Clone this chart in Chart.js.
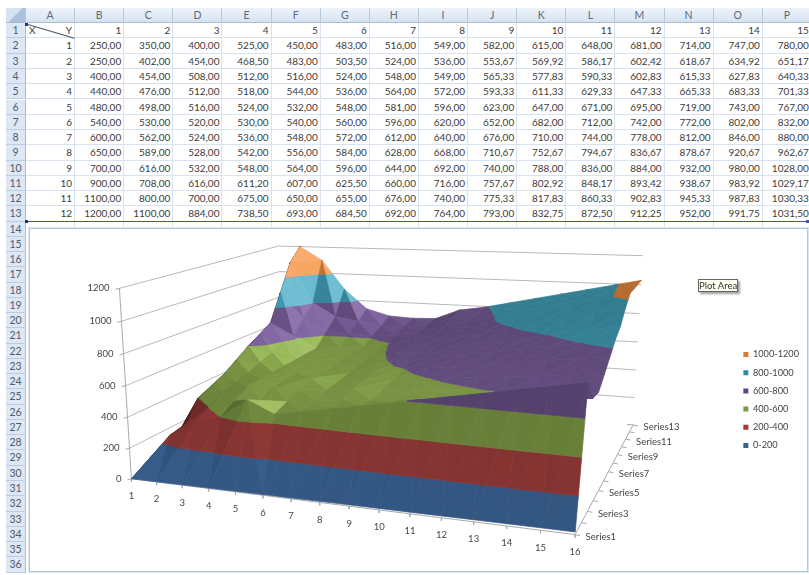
<!DOCTYPE html>
<html>
<head>
<meta charset="utf-8">
<style>
  html,body{margin:0;padding:0;background:#fff;width:809px;height:575px;overflow:hidden}
  #sheet{position:absolute;left:0;top:0;width:809px;height:575px;overflow:hidden;font-family:Lato,"Liberation Sans",sans-serif}
  .c{position:absolute;box-sizing:border-box;white-space:nowrap;overflow:hidden}
  .num{text-align:right;padding-right:2px;font-size:10px;color:#3c3c3c;border-right:1px solid #d9e3ef;border-bottom:1px solid #d9e3ef}
  .hc{text-align:center;font-size:10.5px;color:#5b6a7c;background:linear-gradient(#edf3fa,#d7e3f1);border-right:1px solid #b7c9dd;border-bottom:1px solid #a8bdd4}
  .hr{text-align:center;font-size:10.5px;color:#4d5c70;background:#dde8f4;border-right:1px solid #a8bdd4;border-bottom:1px solid #bccde0}
  #frame{position:absolute;left:29px;top:228px;width:779px;height:344px;box-sizing:border-box;border:1px solid #b4c8db;background:#fff;box-shadow:0 0 0 1px #dbe6f0}
  #plot{position:absolute;left:30px;top:229px}
  #tip{position:absolute;left:698px;top:279px;width:40px;height:13px;box-sizing:border-box;border:1px solid #666;background:#fffff2;box-shadow:2px 2px 2px #a0a0a0;font-size:9.5px;line-height:11px;text-align:center;color:#333;white-space:nowrap}
</style>
</head>
<body>
<div id="sheet">
  <div id="grid"></div>
  <div id="frame"></div>
  <canvas id="plot" width="779" height="342"></canvas>
  <div id="tip">Plot Area</div>
</div>
<script src="https://cdn.jsdelivr.net/npm/chart.js@4/dist/chart.umd.min.js"></script>
<script>
// Worksheet values, one array per row (row 1 holds the Y headers).
const colLetters = ["A","B","C","D","E","F","G","H","I","J","K","L","M","N","O","P"];
const headerY = [1,2,3,4,5,6,7,8,9,10,11,12,13,14,15];
const xValues = [1,2,3,4,5,6,7,8,9,10,11,12];
const row2  = [250,350,400,525,450,483,516,549,582,615,648,681,714,747,780];
const row3  = [250,402,454,468.5,483,503.5,524,536,553.67,569.92,586.17,602.42,618.67,634.92,651.17];
const row4  = [400,454,508,512,516,524,548,549,565.33,577.83,590.33,602.83,615.33,627.83,640.33];
const row5  = [440,476,512,518,544,536,564,572,593.33,611.33,629.33,647.33,665.33,683.33,701.33];
const row6  = [480,498,516,524,532,548,581,596,623,647,671,695,719,743,767];
const row7  = [540,530,520,530,540,560,596,620,652,682,712,742,772,802,832];
const row8  = [600,562,524,536,548,572,612,640,676,710,744,778,812,846,880];
const row9  = [650,589,528,542,556,584,628,668,710.67,752.67,794.67,836.67,878.67,920.67,962.67];
const row10 = [700,616,532,548,564,596,644,692,740,788,836,884,932,980,1028];
const row11 = [900,708,616,611.2,607,625.5,660,716,757.67,802.92,848.17,893.42,938.67,983.92,1029.17];
const row12 = [1100,800,700,675,650,655,676,740,775.33,817.83,860.33,902.83,945.33,987.83,1030.33];
const row13 = [1200,1100,884,738.5,693,684.5,692,764,793,832.75,872.5,912.25,952,991.75,1031.5];
const dataRows = [row2,row3,row4,row5,row6,row7,row8,row9,row10,row11,row12,row13];

// Chart labels and value bands.
const valueTicks = [0,200,400,600,800,1000,1200];
const categoryLabels = [1,2,3,4,5,6,7,8,9,10,11,12,13,14,15,16];
const seriesLabels = ["Series1","Series3","Series5","Series7","Series9","Series11","Series13"];
const bandNames = ["1000-1200","800-1000","600-800","400-600","200-400","0-200"];
const bandLow   = [1000,800,600,400,200,0];
const bandHigh  = [1200,1000,800,600,400,200];
const bandBase  = [[247,150,70],[75,172,198],[128,100,162],[155,187,89],[192,80,77],[79,129,189]];
const bandGloss = [2.2,2.4,0.6,0.6,0.8,0.8];
const bandSwatch= ["#d87b33","#2f8ca6","#61438a","#7b9a44","#9c3b38","#33628f"];

// ---- Worksheet grid ----
const grid = document.getElementById('grid');
const colX = i => 26 + i * 49.12;
const rowY = r => 23.2 + (r - 1) * 15.26;
function cell(cls, text, l, t, w, h){
  const d = document.createElement('div');
  d.className = 'c ' + cls;
  d.textContent = text;
  d.style.cssText = `left:${l}px;top:${t}px;width:${w}px;height:${h}px;line-height:${h}px`;
  grid.appendChild(d);
  return d;
}
const corner = cell('hc','',6,8,20,15.2);
corner.style.background = 'linear-gradient(135deg,#d5e2f0 50%,#a9c1dc 50%)';
colLetters.forEach((n,i)=>cell('hc',n,colX(i),8,49.12,15.2));
for(let r=1;r<=36;r++) cell('hr',String(r),6,rowY(r),20,15.26);
const fmt = v => v.toFixed(2).replace('.',',');
// Row 1: the XY corner cell and the Y headers.
const xy = cell('num','',colX(0),rowY(1),49.12,15.26);
xy.innerHTML = '<span style="position:absolute;left:3px">X</span><span style="position:absolute;right:2px">Y</span>';
headerY.forEach((v,i)=>cell('num',String(v),colX(i+1),rowY(1),49.12,15.26));
dataRows.forEach((row,r)=>{
  cell('num',String(xValues[r]),colX(0),rowY(r+2),49.12,15.26);
  row.forEach((v,i)=>cell('num',fmt(v),colX(i+1),rowY(r+2),49.12,15.26));
});
for(let i=0;i<16;i++){ const s=cell('num','',colX(i),rowY(14),49.12,7); s.style.borderBottom='none'; }
// Diagonal in A1, selection outline and its handles.
grid.insertAdjacentHTML('beforeend',
 `<svg style="position:absolute;left:0;top:0" width="809" height="228">
    <line x1="26" y1="24" x2="74.5" y2="38.2" stroke="#4b5566" stroke-width="1.1"/>
    <line x1="26" y1="221.5" x2="809" y2="221.5" stroke="#4a50b0" stroke-width="1.2"/>
    <rect x="25" y="23" width="3" height="3" fill="#27307e"/>
    <rect x="25" y="220" width="3" height="3" fill="#27307e"/>
    <rect x="806" y="220" width="3" height="3" fill="#4a50b0"/>
    <text x="411" y="228" font-size="7" fill="#8aa0b8" letter-spacing="0.5">....</text>
  </svg>`);

// ---- Perspective mapping of the 3-D box onto the page ----
const boxCorners = {front:[131,479], right:[575,535], back:[633,425], left:[282,395], top:[119,288], farTop:[643,259]};
function buildCamera(k){
  const [x0,y0]=k.front,[x1,y1]=k.right,[x2,y2]=k.back,[x3,y3]=k.left;
  const dx1=x1-x2,dx2=x3-x2,sx=x0-x1+x2-x3,dy1=y1-y2,dy2=y3-y2,sy=y0-y1+y2-y3;
  const den=dx1*dy2-dx2*dy1;
  const g=(sx*dy2-dx2*sy)/den,h=(dx1*sy-sx*dy1)/den;
  const a=x1-x0+g*x1,b=x3-x0+h*x3,d=y1-y0+g*y1,e=y3-y0+h*y3;
  // The vertical direction is fixed by where the far top corner falls horizontally.
  const t=(a+b-k.farTop[0]*(g+h))/(k.farTop[0]-k.top[0]);
  const wx=t*k.top[0]-x0,wy=t*k.top[1]-y0,wz=t-1;
  return (u,v,w)=>{
    const z=g*u+h*v+wz*w+1;
    return {x:(a*u+b*v+x0+wx*w)/z,y:(d*u+e*v+y0+wy*w)/z};
  };
}
const project = buildCamera(boxCorners);
const maxValue = valueTicks[valueTicks.length-1];

// Height field: series run from the header row backwards, categories from column A rightwards.
const field = [[0].concat(headerY)].concat(dataRows.map((r,i)=>[xValues[i]].concat(r)));
const nCat = field[0].length, nSer = field.length;
const U = i => i/(nCat-1), V = j => j/(nSer-1);

// Shading: the light comes mostly from the right of the surface.
const boxScale = [1,0.55,0.5];
const light = [0.85,-0.05,0.5];
function lightOf(tri){
  const p = tri.map(q=>[q.u*boxScale[0],q.v*boxScale[1],q.z/maxValue*boxScale[2]]);
  const a=[p[1][0]-p[0][0],p[1][1]-p[0][1],p[1][2]-p[0][2]];
  const b=[p[2][0]-p[0][0],p[2][1]-p[0][1],p[2][2]-p[0][2]];
  let n=[a[1]*b[2]-a[2]*b[1],a[2]*b[0]-a[0]*b[2],a[0]*b[1]-a[1]*b[0]];
  const l=Math.hypot(n[0],n[1],n[2])||1; n=n.map(c=>c/l);
  if(n[2]<0) n=n.map(c=>-c);
  return n[0]*light[0]+n[1]*light[1]+n[2]*light[2];
}
function shadeOf(d,band){
  const s=d<0 ? 0.63+0.7*d : 0.63+0.35*d+bandGloss[band]*Math.max(0,d-0.45);
  return Math.min(s,1.38);
}
function tint(base,s){
  const m=Math.min(s,1), e=Math.max(0,s-1);
  const grey=(base[0]+base[1]+base[2])/3;
  const c=base.map(v=>{
    const sat=grey+(v-grey)*(1+0.2*(1-m));
    return Math.max(0,Math.min(255,Math.round(sat*m+(255-sat)*e*0.55)));
  });
  return `rgb(${c[0]},${c[1]},${c[2]})`;
}
// Cut a triangle to one value band.
function clipBand(poly,limit,keepAbove){
  const out=[];
  for(let i=0;i<poly.length;i++){
    const p=poly[i],q=poly[(i+1)%poly.length];
    const pin=keepAbove?p.z>=limit:p.z<=limit, qin=keepAbove?q.z>=limit:q.z<=limit;
    if(pin) out.push(p);
    if(pin!==qin){
      const f=(limit-p.z)/(q.z-p.z);
      out.push({u:p.u+(q.u-p.u)*f,v:p.v+(q.v-p.v)*f,z:limit});
    }
  }
  return out;
}
// Collect the facets from far (back-left) to near (front-right).
const tris=[];
for(let j=nSer-2;j>=0;j--){
  for(let i=0;i<nCat-1;i++){
    const q=(a,b)=>({u:U(a),v:V(b),z:field[b][a]});
    const p00=q(i,j),p10=q(i+1,j),p01=q(i,j+1),p11=q(i+1,j+1);
    let pair;
    if(p00.z+p11.z>=p10.z+p01.z) pair=[[p00,p01,p11],[p00,p11,p10]];
    else pair=[[p01,p11,p10],[p00,p01,p10]];
    tris.push(pair[0],pair[1]);
  }
}
// Datasets: band legend entries first, then wall lines and facets in paint order.
const datasets=[];
bandNames.forEach((n,i)=>datasets.push({label:n,data:[],backgroundColor:bandSwatch[i],borderColor:bandSwatch[i],borderWidth:0,pointRadius:0,order:1e6}));
let paint=0;
function addLine(points,color,width){
  datasets.push({data:points,borderColor:color,borderWidth:width,pointRadius:0,fill:false,tension:0,order:-(paint++)});
}
const at=(u,v,w)=>project(u,v,w/maxValue);
const gridColor='#b9b9b9', axisColor='#a9a9a9';
valueTicks.forEach(w=>{
  if(w>0) addLine([at(0,0,w),at(0,1,w),at(1,1,w)],gridColor,1);
  const p=at(0,0,w);
  addLine([p,{x:p.x-4,y:p.y+1}],axisColor,1);
});
addLine([at(0,0,0),at(0,0,maxValue)],axisColor,1);
addLine([at(1,0,0),at(1,1,0)],axisColor,1);
addLine([at(1,1,0),at(0.985,1,0)],axisColor,1);
for(let j=0;j<nSer;j++){ const p=at(1,V(j),0); addLine([p,{x:p.x+5,y:p.y+1}],axisColor,1); }
for(let i=0;i<nCat;i++){ const p=at(U(i),0,0); addLine([p,{x:p.x,y:p.y+3}],axisColor,1); }
addLine([at(0,0,0),at(1,0,0)],axisColor,1);

tris.forEach(tri=>{
  const d=lightOf(tri);
  bandLow.slice().reverse().forEach((lo,ri)=>{
    const b=bandLow.length-1-ri;
    let poly=clipBand(tri,lo,true);
    if(poly.length) poly=clipBand(poly,bandHigh[b],false);
    if(poly.length<3) return;
    const pts=poly.map(p=>at(p.u,p.v,p.z));
    pts.push(pts[0]);
    const col=tint(bandBase[b],shadeOf(d,b));
    datasets.push({data:pts,borderColor:col,backgroundColor:col,borderWidth:0.7,pointRadius:0,fill:'shape',tension:0,order:-(paint++)});
  });
});

// Axis captions placed through the chart's scales.
const axisText={
  id:'axisText',
  afterDatasetsDraw(chart){
    const {ctx,scales:{x,y}}=chart;
    const put=(txt,p,dx,dy,align)=>{
      ctx.textAlign=align; ctx.textBaseline='middle';
      ctx.fillText(txt,x.getPixelForValue(p.x+dx),y.getPixelForValue(p.y+dy));
    };
    ctx.save();
    ctx.font='9.5px Lato, "Liberation Sans", sans-serif';
    ctx.fillStyle='#454545';
    valueTicks.forEach(w=>put(String(w),at(0,0,w),-10,0,'right'));
    categoryLabels.forEach((c,i)=>put(String(c),at(U(i),0,0),0,17.5,'center'));
    seriesLabels.forEach((s,k)=>put(s,at(1,V(k*2),0),10.5,2.5,'left'));
    ctx.restore();
  }
};

const chart=new Chart(document.getElementById('plot'),{
  type:'line',
  data:{datasets},
  plugins:[axisText],
  options:{
    responsive:false,animation:false,
    layout:{padding:0},
    interaction:{mode:null},
    elements:{line:{borderJoinStyle:'round',capBezierPoints:false}},
    plugins:{
      tooltip:{enabled:false},
      title:{display:false},
      legend:{
        display:true,position:'right',align:'center',
        labels:{
          boxWidth:5,boxHeight:5,padding:9,color:'#444',
          font:{family:'Lato, "Liberation Sans", sans-serif',size:9.2},
          filter:it=>bandNames.includes(it.text)
        }
      }
    },
    scales:{
      x:{type:'linear',display:false,min:0,max:809},
      y:{type:'linear',display:false,reverse:true,min:0,max:575}
    }
  }
});
// Make one scale unit equal one page pixel, whatever space the legend took.
const canvas=document.getElementById('plot');
const area=chart.chartArea;
chart.options.scales.x.min=canvas.offsetLeft+area.left;
chart.options.scales.x.max=canvas.offsetLeft+area.right;
chart.options.scales.y.min=canvas.offsetTop+area.top;
chart.options.scales.y.max=canvas.offsetTop+area.bottom;
chart.update('none');
</script>
</body>
</html>
